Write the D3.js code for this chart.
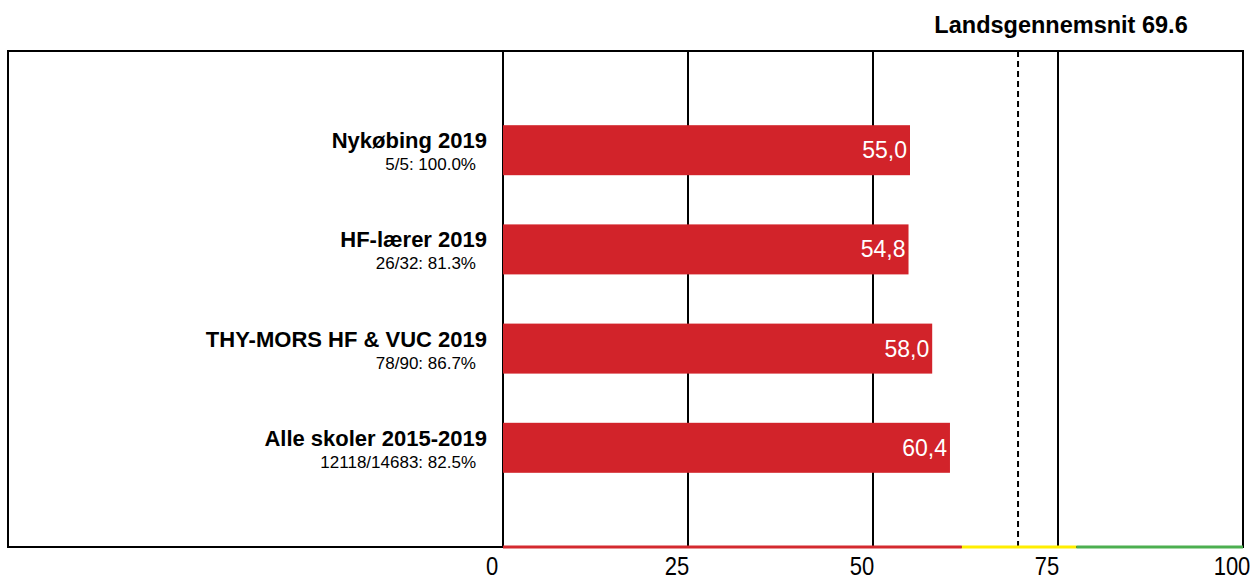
<!DOCTYPE html>
<html>
<head>
<meta charset="utf-8">
<script src="https://cdn.jsdelivr.net/npm/d3@7"></script>
<style>
  body { margin: 0; background: #fff; }
  text { font-family: "Liberation Sans", Arial, sans-serif; }
</style>
</head>
<body>
<div id="chart"></div>
<script>
var categories = ["Nykøbing 2019", "HF-lærer 2019", "THY-MORS HF & VUC 2019", "Alle skoler 2015-2019"];
var subLabels = ["5/5: 100.0%", "26/32: 81.3%", "78/90: 86.7%", "12118/14683: 82.5%"];
var values = [55.0, 54.8, 58.0, 60.4];
var tickValues = [0, 25, 50, 75, 100];
var average = 69.6;
// colour bands along the value axis
var bandStops = [0, 62, 77.5, 100];
var bandColors = ["#d42a2f", "#ffee00", "#4caf50"];

var width = 1255,
  height = 579;

var svg = d3.select("#chart")
  .append("svg")
  .attr("width", width)
  .attr("height", height);

var x = d3.scaleLinear().domain([0, 100]).range([503, 1243]);

var y = d3.scalePoint()
  .domain(categories)
  .range([51, 547])
  .padding(1);

var barH = 50;

// gridlines
svg.selectAll("line.grid")
  .data(tickValues.slice(0, 4))
  .enter().append("line")
  .attr("class", "grid")
  .attr("x1", function(d) { return x(d); })
  .attr("x2", function(d) { return x(d); })
  .attr("y1", 51)
  .attr("y2", 547)
  .attr("stroke", "#000")
  .attr("stroke-width", 2);

// outer frame
svg.append("rect")
  .attr("x", 8)
  .attr("y", 51)
  .attr("width", x(100) - 8)
  .attr("height", 496)
  .attr("fill", "none")
  .attr("stroke", "#000")
  .attr("stroke-width", 2);

// average line
svg.append("line")
  .attr("x1", x(average))
  .attr("x2", x(average))
  .attr("y1", 51)
  .attr("y2", 547)
  .attr("stroke", "#000")
  .attr("stroke-width", 2)
  .attr("stroke-dasharray", "6,4");

svg.append("text")
  .attr("x", x(average) + 43)
  .attr("y", 33)
  .attr("text-anchor", "middle")
  .style("font-size", "23.5px")
  .style("font-weight", "bold")
  .text("Landsgennemsnit " + average.toFixed(1));

// bars
var g = svg.selectAll("g.bar")
  .data(values)
  .enter().append("g")
  .attr("class", "bar");

g.append("rect")
  .attr("x", x(0))
  .attr("y", function(d, i) { return y(categories[i]) - barH / 2; })
  .attr("width", function(d) { return x(d) - x(0); })
  .attr("height", barH)
  .attr("fill", "#d2232a");

g.append("text")
  .attr("x", function(d) { return x(d) - 3; })
  .attr("y", function(d, i) { return y(categories[i]) + 8; })
  .attr("text-anchor", "end")
  .style("font-size", "23px")
  .style("fill", "#fff")
  .text(function(d) { return d.toFixed(1).replace(".", ","); });

g.append("text")
  .attr("x", 487)
  .attr("y", function(d, i) { return y(categories[i]) - 2; })
  .attr("text-anchor", "end")
  .style("font-size", "22px")
  .style("font-weight", "bold")
  .text(function(d, i) { return categories[i]; });

g.append("text")
  .attr("x", 476)
  .attr("y", function(d, i) { return y(categories[i]) + 20; })
  .attr("text-anchor", "end")
  .style("font-size", "17px")
  .text(function(d, i) { return subLabels[i]; });

// coloured baseline
svg.selectAll("line.band")
  .data(bandColors)
  .enter().append("line")
  .attr("class", "band")
  .attr("x1", function(d, i) { return x(bandStops[i]); })
  .attr("x2", function(d, i) { return x(bandStops[i + 1]); })
  .attr("y1", 547)
  .attr("y2", 547)
  .attr("stroke", function(d) { return d; })
  .attr("stroke-width", 3);

// tick labels (slightly tall/narrow in the original)
svg.selectAll("text.tick")
  .data(tickValues)
  .enter().append("text")
  .attr("class", "tick")
  .attr("transform", function(d) {
    return "translate(" + (x(d) - 11) + ",575) scale(1,1.15)";
  })
  .attr("text-anchor", "middle")
  .style("font-size", "22px")
  .text(function(d) { return d; });
</script>
</body>
</html>
